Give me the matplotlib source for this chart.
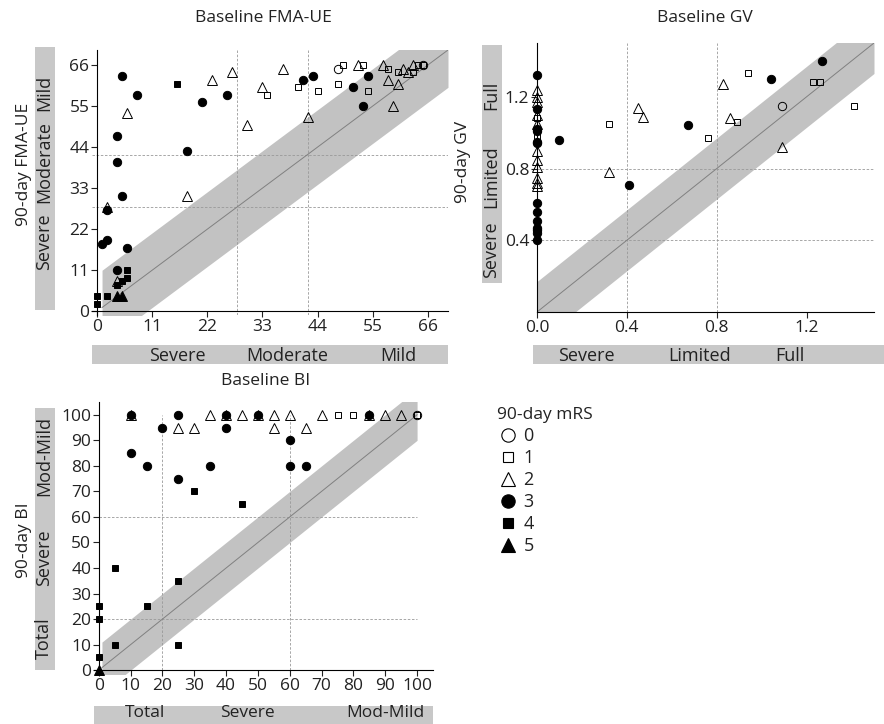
import numpy as np
import matplotlib.pyplot as plt
from matplotlib.lines import Line2D

# ---- data ----
# FMA-UE (baseline x, 90-day y), by 90-day mRS
fma_x = {
    0: [48, 65],
    1: [34, 40, 44, 48, 49, 53, 54, 58, 60, 63, 64, 65],
    2: [2, 4, 6, 18, 23, 27, 30, 33, 37, 42, 52, 57, 58, 59, 60, 61, 62, 63],
    3: [5, 8, 21, 26, 41, 43, 51, 54, 53, 18, 4, 4, 5, 2, 1, 2, 6, 4],
    4: [16, 6, 6, 5, 4, 0, 2, 0],
    5: [4, 5],
}
fma_y = {
    0: [65, 66],
    1: [58, 60, 59, 61, 66, 66, 59, 65, 64, 64, 66, 66],
    2: [28, 8, 53, 31, 62, 64, 50, 60, 65, 52, 66, 66, 62, 55, 61, 65, 64, 66],
    3: [63, 58, 56, 58, 62, 63, 60, 63, 55, 43, 47, 40, 31, 27, 18, 19, 17, 11],
    4: [61, 11, 9, 8, 7, 4, 4, 2],
    5: [4, 4],
}

# gait velocity
gv_x = {
    0: [1.09],
    1: [0.32, 0.76, 0.89, 0.94, 1.23, 1.26, 1.41, 0, 0],
    2: [0.32, 0.45, 0.47, 0.83, 0.86, 1.09, 0, 0, 0, 0, 0, 0, 0, 0, 0, 0, 0],
    3: [1.27, 1.04, 0.67, 0.41, 0.10, 0, 0, 0, 0, 0, 0, 0, 0, 0, 0, 0, 0, 0],
    4: [],
    5: [],
}
gv_y = {
    0: [1.15],
    1: [1.05, 0.97, 1.06, 1.33, 1.28, 1.28, 1.15, 1.08, 0.98],
    2: [0.78, 1.14, 1.09, 1.27, 1.08, 0.92, 1.24, 1.20, 1.17, 1.10, 1.05, 0.90,
        0.85, 0.81, 0.75, 0.72, 0.70],
    3: [1.40, 1.30, 1.04, 0.71, 0.96, 1.32, 1.13, 1.02, 1.01, 0.95, 0.94, 0.61,
        0.56, 0.51, 0.47, 0.46, 0.44, 0.40],
    4: [],
    5: [],
}

# Barthel index
bi_x = {
    0: [100],
    1: [75, 80, 100],
    2: [10, 35, 40, 45, 50, 55, 60, 70, 85, 90, 95, 25, 30, 55, 65],
    3: [10, 25, 40, 50, 85, 20, 40, 60, 10, 15, 35, 60, 65, 25],
    4: [30, 45, 5, 25, 15, 0, 0, 5, 25, 0],
    5: [0],
}
bi_y = {
    0: [100],
    1: [100, 100, 100],
    2: [100, 100, 100, 100, 100, 100, 100, 100, 100, 100, 100, 95, 95, 95, 95],
    3: [100, 100, 100, 100, 100, 95, 95, 90, 85, 80, 80, 80, 80, 75],
    4: [70, 65, 40, 35, 25, 25, 20, 10, 10, 5],
    5: [0],
}

mrs_levels = [0, 1, 2, 3, 4, 5]
marker_of = {0: 'o', 1: 's', 2: '^', 3: 'o', 4: 's', 5: '^'}
filled_of = {0: False, 1: False, 2: False, 3: True, 4: True, 5: True}
size_of = {0: 6, 1: 4.5, 2: 6.5, 3: 6, 4: 4.5, 5: 6.5}

W, H = 884, 724
BAND = '#c2c2c2'
BAR = '#c8c8c8'
TXT = '#222222'
DASH = '#999999'
plt.rcParams['font.family'] = ['Open Sans', 'DejaVu Sans']
plt.rcParams['text.color'] = TXT
plt.rcParams['xtick.color'] = TXT
plt.rcParams['ytick.color'] = TXT

fig = plt.figure(figsize=(W / 100, H / 100), dpi=100)


def px_axes(left, top, right, bottom):
    return fig.add_axes([left / W, 1 - bottom / H, (right - left) / W, (bottom - top) / H])


def draw_points(ax, xs, ys, clip=True):
    for k in mrs_levels:
        if len(xs[k]) == 0:
            continue
        face = 'black' if filled_of[k] else 'none'
        ax.plot(xs[k], ys[k], linestyle='none', marker=marker_of[k],
                markersize=size_of[k], markerfacecolor=face,
                markeredgecolor='black', markeredgewidth=0.7,
                clip_on=clip, zorder=4)


def style_axes(ax, xlim, ylim, xticks, yticks, cross=True):
    ax.set_xlim(*xlim)
    ax.set_ylim(*ylim)
    ax.spines['top'].set_visible(False)
    ax.spines['right'].set_visible(False)
    if cross:
        ax.spines['left'].set_position(('data', 0))
        ax.spines['bottom'].set_position(('data', 0))
    ax.set_xticks(xticks)
    ax.set_yticks(yticks)
    ax.tick_params(labelsize=12.5, length=4, width=0.8, pad=1.5)
    ax.patch.set_visible(False)


def band(ax, x0, x1, w):
    xx = np.array([x0, x1])
    ax.fill_between(xx, xx - w, xx + w, color=BAND, lw=0, zorder=1)
    ax.plot(xx, xx, color='#808080', lw=0.7, zorder=2)


def cuts(ax, vals):
    for v in vals:
        ax.axvline(v, color=DASH, lw=0.6, ls=(0, (3, 2)), zorder=1.5)
        ax.axhline(v, color=DASH, lw=0.6, ls=(0, (3, 2)), zorder=1.5)


def add_xbar(ax, left, right, top, bottom, labels, where, ty=0.42, size=13):
    pos = ax.get_position()
    xmin, xmax = ax.get_xlim()
    al, ar = pos.x0 * W, pos.x1 * W
    k = (xmax - xmin) / (ar - al)
    b = px_axes(left, top, right, bottom)
    b.set_xlim(xmin + (left - al) * k, xmin + (right - al) * k)
    b.set_ylim(0, 1)
    b.set_facecolor(BAR)
    for s in b.spines.values():
        s.set_visible(False)
    b.set_xticks([])
    b.set_yticks([])
    for lab, v in zip(labels, where):
        b.text(v, ty, lab, ha='center', va='center', fontsize=size)


def add_ybar(ax, left, right, top, bottom, labels, where):
    pos = ax.get_position()
    ymin, ymax = ax.get_ylim()
    at, ab = (1 - pos.y1) * H, (1 - pos.y0) * H
    k = (ymax - ymin) / (ab - at)
    b = px_axes(left, top, right, bottom)
    b.set_ylim(ymin + (ab - bottom) * k, ymin + (ab - top) * k)
    b.set_xlim(0, 1)
    b.set_facecolor(BAR)
    for s in b.spines.values():
        s.set_visible(False)
    b.set_xticks([])
    b.set_yticks([])
    for lab, v in zip(labels, where):
        b.text(0.45, v, lab, ha='center', va='center', rotation=90, fontsize=13)


# ---- FMA-UE ----
ax1 = px_axes(92, 50, 448, 315)
style_axes(ax1, (-1, 70), (-1, 70), range(0, 67, 11), range(0, 67, 11))
band(ax1, 1, 70, 10)
cuts(ax1, [28, 42])
draw_points(ax1, fma_x, fma_y)
fig.text(263 / W, 1 - 18 / H, 'Baseline FMA-UE', ha='center', va='center', fontsize=12.5)
fig.text(24 / W, 1 - 164 / H, '90-day FMA-UE', ha='center', va='center', rotation=90, fontsize=12.5)
add_xbar(ax1, 92, 448, 345, 364, ['Severe', 'Moderate', 'Mild'], [16, 38, 60])
add_ybar(ax1, 35, 55, 47, 310, ['Severe', 'Moderate', 'Mild'], [18.6, 40, 58.5])

# ---- GV ----
ax2 = px_axes(537, 43, 874, 312)
style_axes(ax2, (0, 1.5), (0, 1.5), [0, 0.4, 0.8, 1.2], [0.4, 0.8, 1.2], cross=False)
ax2.set_xticklabels(['0.0', '0.4', '0.8', '1.2'])
band(ax2, 0, 1.5, 0.17)
cuts(ax2, [0.4, 0.8])
draw_points(ax2, gv_x, gv_y, clip=False)
fig.text(705 / W, 1 - 18 / H, 'Baseline GV', ha='center', va='center', fontsize=12.5)
fig.text(463 / W, 1 - 162 / H, '90-day GV', ha='center', va='center', rotation=90, fontsize=12.5)
add_xbar(ax2, 533, 884, 345, 364, ['Severe', 'Limited', 'Full'], [0.22, 0.725, 1.125])
add_ybar(ax2, 482, 502, 45, 283, ['Severe', 'Limited', 'Full'], [0.35, 0.755, 1.21])

# ---- BI ----
ax3 = px_axes(94, 402, 433, 674)
style_axes(ax3, (-1.5, 105), (-1.5, 105), range(0, 101, 10), range(0, 101, 10))
band(ax3, 1, 100, 10)
for v in [20, 60]:
    ax3.plot([v, v], [0, 100], color=DASH, lw=0.6, ls=(0, (3, 2)), zorder=1.5)
    ax3.plot([0, 100], [v, v], color=DASH, lw=0.6, ls=(0, (3, 2)), zorder=1.5)
draw_points(ax3, bi_x, bi_y, clip=False)
fig.text(266 / W, 1 - 381 / H, 'Baseline BI', ha='center', va='center', fontsize=12.5)
fig.text(24 / W, 1 - 540 / H, '90-day BI', ha='center', va='center', rotation=90, fontsize=12.5)
add_xbar(ax3, 94, 433, 706, 724, ['Total', 'Severe', 'Mod-Mild'], [14.6, 46.6, 90],
         ty=0.6, size=12.5)
add_ybar(ax3, 35, 55, 408, 670, ['Total', 'Severe', 'Mod-Mild'], [12.5, 44, 84])

# ---- legend ----
handles = []
for k in mrs_levels:
    face = 'black' if filled_of[k] else 'none'
    handles.append(Line2D([], [], linestyle='none', marker=marker_of[k],
                          markersize=size_of[k] * 1.6, markerfacecolor=face,
                          markeredgecolor='black', markeredgewidth=0.8))
leg = fig.legend(handles, [str(k) for k in mrs_levels], title='90-day mRS',
                 loc='upper left', bbox_to_anchor=(490 / W, 1 - 400 / H),
                 frameon=False, fontsize=13, title_fontsize=12.5,
                 handletextpad=0.25, labelspacing=0.22, handlelength=1.2,
                 borderaxespad=0)
leg._legend_box.align = 'left'

fig.savefig('out.png', dpi=100)
